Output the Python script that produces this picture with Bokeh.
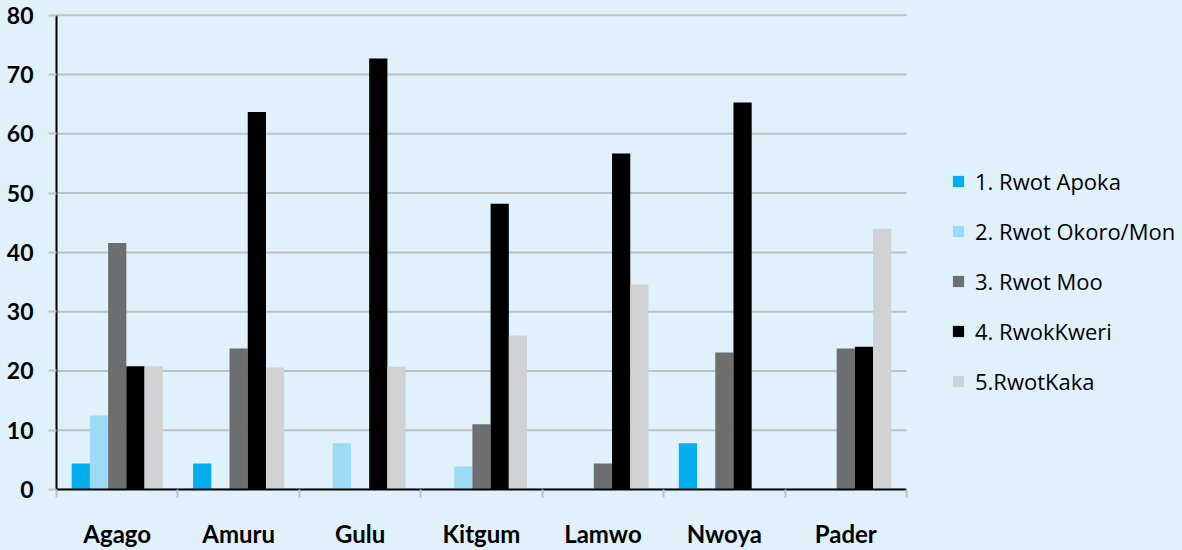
import numpy as np
from bokeh.plotting import figure
from bokeh.models import Range1d, FixedTicker, Legend, LegendItem
from bokeh.embed import file_html
from bokeh.resources import INLINE

districts = ["Agago", "Amuru", "Gulu", "Kitgum", "Lamwo", "Nwoya", "Pader"]
series_names = ["1. Rwot Apoka", "2. Rwot Okoro/Mon", "3. Rwot Moo", "4. RwokKweri", "5.RwotKaka"]
rwot_apoka = [4.4, 4.4, 0, 0, 0, 7.8, 0]
rwot_okoro = [12.5, 0, 7.8, 3.9, 0, 0, 0]
rwot_moo = [41.6, 23.8, 0, 11.0, 4.4, 23.1, 23.8]
rwok_kweri = [20.8, 63.7, 72.7, 48.2, 56.7, 65.3, 24.1]
rwot_kaka = [20.8, 20.6, 20.7, 26.0, 34.6, 0, 44.0]
series_values = [rwot_apoka, rwot_okoro, rwot_moo, rwok_kweri, rwot_kaka]
colors = ["#00AEEF", "#9DDAF6", "#6D6E70", "#000000", "#D1D2D4"]
y_ticks = [0, 10, 20, 30, 40, 50, 60, 70, 80]

BG = "#E0F1FB"
GRID = "#BEC2C6"
FONT = "Lato"

n = len(districts)
# the frame also holds the legend area; the category axis spans the first 850 px
x_end = n * (1182 - 56) / 850.0

p = figure(width=1182, height=550, output_backend="svg", toolbar_location=None,
           x_range=Range1d(0, x_end), y_range=Range1d(0, 80.3),
           min_border_left=56, min_border_top=13, min_border_right=0, min_border_bottom=60)
p.background_fill_color = BG
p.border_fill_color = BG
p.outline_line_color = None

# horizontal grid lines over the category area only
p.segment(x0=[0] * len(y_ticks), x1=[n] * len(y_ticks), y0=y_ticks, y1=y_ticks,
          line_color=GRID, line_width=2)
p.xgrid.grid_line_color = None
p.ygrid.grid_line_color = None

offsets = [-0.3, -0.15, 0.0, 0.15, 0.3]
centers = np.arange(n) + 0.5
renderers = []
for vals, off, col in zip(series_values, offsets, colors):
    r = p.vbar(x=centers + off, top=vals, width=0.15, bottom=0,
               fill_color=col, line_color=None)
    renderers.append(r)

# y axis
ya = p.yaxis[0]
ya.ticker = FixedTicker(ticks=y_ticks)
ya.bounds = (0, 80)
ya.axis_line_color = "black"
ya.axis_line_width = 2
ya.major_tick_line_color = GRID
ya.major_tick_line_width = 2
ya.major_tick_out = 8
ya.major_tick_in = 0
ya.minor_tick_line_color = None
ya.major_label_text_font = FONT
ya.major_label_text_font_style = "bold"
ya.major_label_text_font_size = "23px"
ya.major_label_text_color = "black"
ya.major_label_standoff = 15

# x axis
xa = p.xaxis[0]
xa.ticker = FixedTicker(ticks=list(centers), minor_ticks=list(range(n + 1)))
xa.major_label_overrides = {float(c): d for c, d in zip(centers, districts)}
xa.bounds = (0, n)
xa.axis_line_color = "black"
xa.axis_line_width = 2
xa.major_tick_line_color = None
xa.major_tick_out = 0
xa.major_tick_in = 0
xa.minor_tick_line_color = GRID
xa.minor_tick_line_width = 2
xa.minor_tick_out = 8
xa.minor_tick_in = 0
xa.major_label_text_font = FONT
xa.major_label_text_font_style = "bold"
xa.major_label_text_font_size = "24px"
xa.major_label_text_color = "black"
xa.major_label_standoff = 21

legend = Legend(items=[LegendItem(label=s, renderers=[r]) for s, r in zip(series_names, renderers)],
                location=(895, 92))
legend.glyph_width = 14
legend.glyph_height = 14
legend.label_height = 32
legend.spacing = 18
legend.label_standoff = 10
legend.padding = 0
legend.margin = 0
legend.border_line_color = None
legend.background_fill_alpha = 0
legend.label_text_font = "Open Sans"
legend.label_text_font_size = "22px"
legend.label_text_color = "black"
p.add_layout(legend, "center")

html = file_html(p, INLINE)
html = html.replace("<head>", "<head><style>html, body { background: %s; }</style>" % BG, 1)
open("out.html", "w").write(html)
